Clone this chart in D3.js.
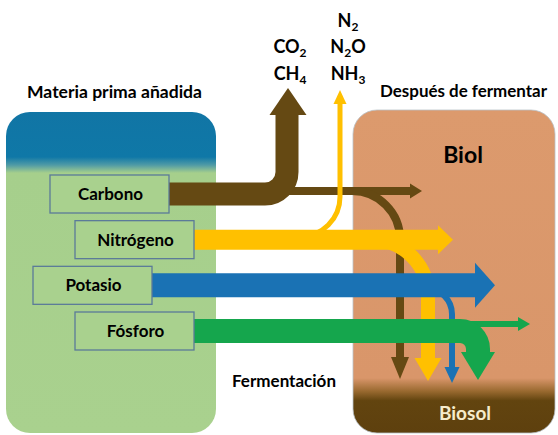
<!DOCTYPE html>
<html><head><meta charset="utf-8">
<script src="https://cdn.jsdelivr.net/npm/d3@7"></script>
<style>html,body{margin:0;padding:0;background:#fff;}svg{display:block;}</style>
</head><body>
<script>
// ---- data ----
const nutrients = ["Carbono", "Nitrógeno", "Potasio", "Fósforo"];
const nutrientColors = ["#654913", "#ffc000", "#1a72b4", "#15a64d"];
const inputFlow  = [23, 20, 24, 24];   // flow entering the digester
const gasFlow    = [23, 5, 0, 0];      // lost as gas
const biolFlow   = [8, 20, 24, 6];     // stays in the liquid (biol)
const biosolFlow = [8, 14, 6, 24];     // settles in the solid (biosol)
const gasLabels = [["CO|2", "CH|4"], ["N|2", "N|2|O", "NH|3"]];
const titles = ["Materia prima añadida", "Después de fermentar", "Fermentación", "Biol", "Biosol"];

// ---- layout ----
const W = 558, H = 435;
const svg = d3.select("body").append("svg").attr("width", W).attr("height", H);
const defs = svg.append("defs");
const font = "Lato, 'Open Sans', sans-serif";

const y = d3.scalePoint().domain(nutrients).range([194, 331]);
const w = d3.scaleLinear().domain([0, 24]).range([0, 24]);
const boxLeft = d3.scaleOrdinal().domain(nutrients).range([50, 75, 33, 75]);
const boxW = 119, boxH = 38;

// gradients
const gL = defs.append("linearGradient").attr("id", "gl").attr("x1", 0).attr("y1", 0).attr("x2", 0).attr("y2", 1);
[[0, "#1175a5"], [0.14, "#0f78a7"], [0.165, "#4f9aa6"], [0.19, "#a6cf8c"], [1, "#a9d18e"]]
  .forEach(([o, c]) => gL.append("stop").attr("offset", o).attr("stop-color", c));
const gR = defs.append("linearGradient").attr("id", "gr").attr("x1", 0).attr("y1", 0).attr("x2", 0).attr("y2", 1);
[[0, "#dc9a6d"], [0.83, "#d9966a"], [0.87, "#9a6a30"], [0.9, "#62440f"], [1, "#5e400e"]]
  .forEach(([o, c]) => gR.append("stop").attr("offset", o).attr("stop-color", c));

svg.append("rect").attr("x", 6).attr("y", 112).attr("width", 210).attr("height", 321)
  .attr("rx", 24).attr("fill", "url(#gl)");
svg.append("rect").attr("x", 353).attr("y", 110).attr("width", 202).attr("height", 323)
  .attr("rx", 24).attr("fill", "url(#gr)").attr("stroke", "#b9c2c8").attr("stroke-width", 0.8);

// ---- arrows ----
const flows = svg.append("g");
function stroke(d, c, width) {
  flows.append("path").attr("d", d).attr("fill", "none").attr("stroke", c).attr("stroke-width", width);
}
function head(tip, dir, len, wid, c) {
  const [tx, ty] = tip; let pts;
  if (dir === "r") pts = [[tx - len, ty - wid / 2], [tx, ty], [tx - len, ty + wid / 2]];
  if (dir === "u") pts = [[tx - wid / 2, ty + len], [tx, ty], [tx + wid / 2, ty + len]];
  if (dir === "d") pts = [[tx - wid / 2, ty - len], [tx, ty], [tx + wid / 2, ty - len]];
  flows.append("polygon").attr("points", pts.map(p => p.join(",")).join(" ")).attr("fill", c);
}

nutrients.forEach((n, i) => {
  const c = nutrientColors[i], cy = y(n), x0 = boxLeft(n) + boxW;
  if (i === 0) {
    const by = cy - 3;
    stroke(`M287,${by}H410`, c, w(biolFlow[i]));
    head([422, by], "r", 12, 15, c);
    stroke(`M352,${by}A48,48 0 0 1 400,${by + 48}V358`, c, w(biosolFlow[i]));
    head([400, 379], "d", 22, 18, c);
    stroke(`M${x0},${cy}H265A22,22 0 0 0 287,${cy - 22}V114`, c, w(gasFlow[i]));
    head([288, 88], "u", 27, 37, c);
  }
  if (i === 1) {
    stroke(`M300,${cy - 3}A40,40 0 0 0 340,${cy - 43}V103`, c, w(gasFlow[i]));
    head([340, 90], "u", 14, 13, c);
    stroke(`M372,${cy}A56,56 0 0 1 428,${cy + 56}V358`, c, w(biosolFlow[i]));
    head([428, 381], "d", 23, 27, c);
    stroke(`M${x0},${cy}H438`, c, w(biolFlow[i]));
    head([453, cy], "r", 15, 29, c);
  }
  if (i === 2) {
    stroke(`M426,${cy + 3}A26,26 0 0 1 452,${cy + 29}V368`, c, w(biosolFlow[i]));
    head([452, 383], "d", 16, 15, c);
    stroke(`M${x0},${cy}H476`, c, w(biolFlow[i]));
    head([495, cy], "r", 20, 45, c);
  }
  if (i === 3) {
    stroke(`M455,${cy - 7}H518`, c, w(biolFlow[i]));
    head([530, cy - 7], "r", 12, 14, c);
    stroke(`M${x0},${cy}H460A18,18 0 0 1 478,${cy + 18}V353`, c, w(biosolFlow[i]));
    head([478, 380], "d", 28, 34, c);
  }
});

// ---- nutrient boxes ----
const boxes = svg.append("g").selectAll("g").data(nutrients).join("g");
boxes.append("rect")
  .attr("x", d => boxLeft(d)).attr("y", d => y(d) - boxH / 2)
  .attr("width", boxW).attr("height", boxH)
  .attr("fill", "#a9d18e").attr("stroke", "#5b7a99").attr("stroke-width", 1.3);
boxes.append("text")
  .attr("x", d => boxLeft(d) + boxW / 2 + 1).attr("y", d => y(d) + 6)
  .attr("text-anchor", "middle").attr("font-family", font).attr("font-weight", 700)
  .attr("font-size", 17).attr("fill", "#000").text(d => d);

// ---- titles ----
function label(t, x, yy, size, color, anchor, len) {
  const el = svg.append("text").attr("x", x).attr("y", yy).attr("font-family", font)
    .attr("font-weight", 700).attr("font-size", size).attr("fill", color)
    .attr("text-anchor", anchor).text(t);
  if (len) el.attr("textLength", len).attr("lengthAdjust", "spacingAndGlyphs");
}
label(titles[0], 27, 98, 17, "#000", "start", 175);
label(titles[1], 380, 97, 17, "#000", "start", 167);
label(titles[2], 232, 387, 17, "#000", "start", 104);
label(titles[3], 463, 163, 23, "#000", "middle");
label(titles[4], 465, 420, 19, "#f6eccb", "middle");

// ---- gases ----
const gasX = [290, 348];
const gasBase = [[53, 80], [27, 53, 80]];
gasLabels.forEach((col, ci) => {
  col.forEach((g, ri) => {
    const parts = g.split("|");
    const t = svg.append("text").attr("x", gasX[ci]).attr("y", gasBase[ci][ri])
      .attr("text-anchor", "middle").attr("font-family", font).attr("font-weight", 700)
      .attr("font-size", 18).attr("fill", "#000");
    parts.forEach((p, k) => {
      const sub = k % 2 === 1;
      t.append("tspan").attr("font-size", sub ? 12 : 18)
        .attr("dy", sub ? 4 : (k > 0 ? -4 : 0)).text(p);
    });
  });
});
</script>
</body></html>
